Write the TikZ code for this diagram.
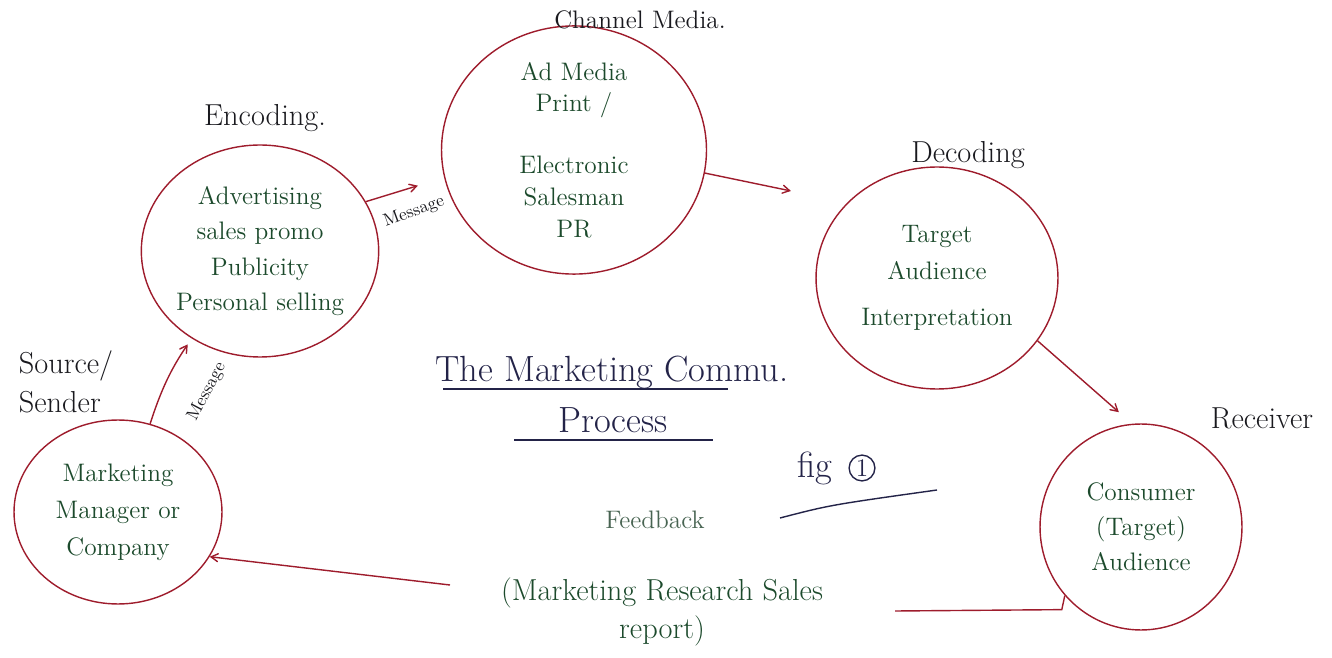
\documentclass[tikz,border=0pt]{standalone}
\usepackage{tikz}
\usetikzlibrary{arrows,calc,shapes}

\definecolor{circred}{RGB}{158,28,44}
\definecolor{inkgreen}{RGB}{28,74,44}
\definecolor{ink}{RGB}{25,25,30}
\definecolor{inknavy}{RGB}{35,35,72}
\definecolor{inkgrey}{RGB}{72,100,82}

\tikzset{
  stage/.style={draw=circred,thick,ellipse,text=inkgreen,font=\Large,align=center,inner sep=0pt},
  caption/.style={text=ink,font=\LARGE,align=center},
  link/.style={draw=circred,thick,->,>=angle 60},
  msg/.style={text=ink,font=\normalsize}
}

\begin{document}
\begin{tikzpicture}[x=0.02cm,y=-0.02cm]
\useasboundingbox (0,0) rectangle (1332,658);
% the circles
\node[stage,minimum width=4.4cm,minimum height=4.24cm] (enc) at (260,251)
  {Advertising\\[2pt] sales promo\\[2pt] Publicity\\[2pt] Personal selling};
\node[stage,minimum width=5.3cm,minimum height=4.5cm] (chan) at (574,150)
  {Ad Media\\ Print /\\[1.2em] Electronic\\ Salesman\\ PR};
\node[stage,minimum width=4.84cm,minimum height=4.44cm] (dec) at (937,278)
  {Target\\[3pt] Audience\\[8pt] Interpretation};
\node[stage,minimum width=4.16cm,minimum height=3.68cm] (src) at (118,512)
  {Marketing\\[3pt] Manager or\\[3pt] Company};
\node[stage,minimum width=4.04cm,minimum height=4.12cm] (cons) at (1141,527)
  {Consumer\\[2pt] (Target)\\[2pt] Audience};

% the labels
\node[caption] (enclbl) at (265,118) {Encoding.};
\node[caption,font=\Large] (chanlbl) at (640,20) {Channel Media.};
\node[caption] (declbl) at (968,155) {Decoding};
\node[caption] (reclbl) at (1262,418) {Receiver};
\node[caption,align=left] (srclbl) at (66,382) {Source/\\ Sender};

% the arrows
\draw[link,shorten >=4pt] (src.70) to[bend left=8] (enc.232);
\node[msg,rotate=62] (msg1) at (207,392) {Message};
\draw[link,shorten >=0.55cm] (enc.25) -- (chan.192);
\node[msg,rotate=20] (msg2) at (414,212) {Message};
\draw[link,shorten >=1.15cm] (chan.350) -- (dec.140);
\draw[link,shorten >=0.35cm] (dec.328) -- (cons.95);

% feedback
\node[text=inkgrey,font=\Large] (fblbl) at (655,520) {Feedback};
\node[text=inkgreen,font=\LARGE,align=center] (fbnote) at (662,612)
  {(Marketing Research Sales\\ report)};
\coordinate (fbr) at (895,611);
\coordinate (fbl) at (450,585);
\draw[draw=circred,thick] (cons.222) -- ++(-3,14) -- (fbr);
\draw[link] (fbl) -- (src.334);

% the title
\node[text=inknavy,font=\huge] (title) at (612,372) {The Marketing Commu.};
\node[text=inknavy,font=\huge] (proc) at (613,420) {Process};
\draw[inknavy,thick] (443,389) -- (728,389);
\draw[inknavy,thick] (514,440) -- (713,440);
\node[text=inknavy,font=\huge] (fig) at (815,468) {fig};
\node[draw=inknavy,thick,circle,inner sep=1pt,text=inknavy,font=\Large] (fignum) at (862,468) {1};
\draw[inknavy,thick] (780,518) .. controls (830,505) .. (937,490);
\end{tikzpicture}
\end{document}
